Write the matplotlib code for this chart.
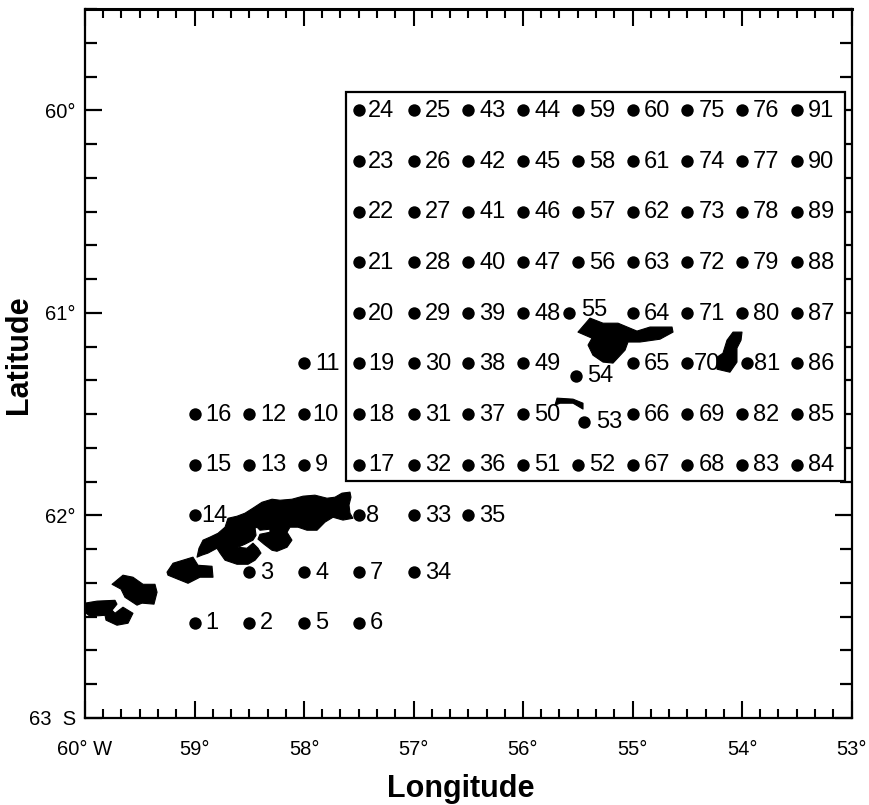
import matplotlib
matplotlib.use("Agg")
import matplotlib.pyplot as plt
from matplotlib.patches import Polygon, Rectangle
from matplotlib.ticker import MultipleLocator

plt.rcParams["font.family"] = ["Liberation Sans", "DejaVu Sans"]

# stations, numbered 1..91 (degrees W, degrees S)
station_lon = [
    59, 58.5, 58.5, 58, 58, 57.5, 57.5, 57.5,
    58, 58, 58, 58.5, 58.5, 59, 59, 59,
    57.5, 57.5, 57.5, 57.5, 57.5, 57.5, 57.5, 57.5,
    57, 57, 57, 57, 57, 57, 57, 57,
    57, 57, 56.5,
    56.5, 56.5, 56.5, 56.5, 56.5, 56.5, 56.5, 56.5,
    56, 56, 56, 56, 56, 56, 56, 56,
    55.5, 55.44, 55.52, 55.58, 55.5, 55.5, 55.5, 55.5,
    55, 55, 55, 55, 55, 55, 55, 55,
    54.5, 54.5, 54.5, 54.5, 54.5, 54.5, 54.5, 54.5,
    54, 54, 54, 54, 54, 53.95, 54, 54,
    53.5, 53.5, 53.5, 53.5, 53.5, 53.5, 53.5, 53.5,
]
station_lat = [
    62.53, 62.53, 62.28, 62.28, 62.53, 62.53, 62.28, 62.0,
    61.75, 61.5, 61.25, 61.5, 61.75, 62.0, 61.75, 61.5,
    61.75, 61.5, 61.25, 61.0, 60.75, 60.5, 60.25, 60.0,
    60.0, 60.25, 60.5, 60.75, 61.0, 61.25, 61.5, 61.75,
    62.0, 62.28, 62.0,
    61.75, 61.5, 61.25, 61.0, 60.75, 60.5, 60.25, 60.0,
    60.0, 60.25, 60.5, 60.75, 61.0, 61.25, 61.5, 61.75,
    61.75, 61.54, 61.31, 61.0, 60.75, 60.5, 60.25, 60.0,
    60.0, 60.25, 60.5, 60.75, 61.0, 61.25, 61.5, 61.75,
    61.75, 61.5, 61.25, 61.0, 60.75, 60.5, 60.25, 60.0,
    60.0, 60.25, 60.5, 60.75, 61.0, 61.25, 61.5, 61.75,
    61.75, 61.5, 61.25, 61.0, 60.75, 60.5, 60.25, 60.0,
]

# island outlines (lon, lat)
island_a = [(60.000, 62.433), (59.890, 62.423), (59.726, 62.419), (59.708, 62.438), (59.753, 62.468),
            (59.726, 62.483), (59.653, 62.453), (59.562, 62.483), (59.607, 62.532), (59.708, 62.542),
            (59.808, 62.517), (59.817, 62.493), (59.954, 62.498), (60.000, 62.478)]
island_b = [(59.753, 62.340), (59.653, 62.295), (59.562, 62.305), (59.470, 62.340), (59.361, 62.340),
            (59.342, 62.379), (59.370, 62.438), (59.479, 62.433), (59.525, 62.443), (59.635, 62.404),
            (59.671, 62.364)]
island_c = [(59.251, 62.280), (59.196, 62.236), (59.014, 62.206), (58.968, 62.246), (58.840, 62.251),
            (58.831, 62.305), (58.950, 62.305), (59.059, 62.335), (59.151, 62.315), (59.242, 62.295)]
island_main = [(58.977, 62.206), (58.959, 62.162), (58.922, 62.122), (58.858, 62.107), (58.785, 62.088),
               (58.721, 62.058), (58.694, 62.014), (58.612, 62.004), (58.539, 61.989), (58.466, 61.964),
               (58.384, 61.935), (58.292, 61.920), (58.219, 61.925), (58.110, 61.920), (58.009, 61.905),
               (57.900, 61.900), (57.790, 61.915), (57.717, 61.910), (57.653, 61.890), (57.580, 61.885),
               (57.571, 61.910), (57.589, 61.949), (57.580, 61.989), (57.553, 62.014), (57.644, 62.023),
               (57.735, 62.009), (57.808, 62.033), (57.881, 62.073), (57.973, 62.073), (58.055, 62.058),
               (58.128, 62.058), (58.155, 62.083), (58.110, 62.122), (58.155, 62.157), (58.247, 62.177),
               (58.292, 62.172), (58.365, 62.142), (58.420, 62.117), (58.402, 62.093), (58.311, 62.083),
               (58.311, 62.068), (58.402, 62.073), (58.429, 62.058), (58.447, 62.063), (58.438, 62.098),
               (58.466, 62.122), (58.539, 62.142), (58.603, 62.157), (58.521, 62.162), (58.466, 62.137),
               (58.420, 62.162), (58.393, 62.186), (58.447, 62.221), (58.511, 62.241), (58.612, 62.241),
               (58.721, 62.221), (58.767, 62.186), (58.795, 62.162), (58.877, 62.186), (58.932, 62.196)]
island_elephant = [(55.498, 61.095), (55.388, 61.026), (55.269, 61.051), (55.132, 61.051), (54.959, 61.090),
                   (54.840, 61.070), (54.639, 61.070), (54.630, 61.095), (54.749, 61.130), (54.932, 61.144),
                   (55.041, 61.144), (55.068, 61.184), (55.178, 61.248), (55.269, 61.243), (55.361, 61.209),
                   (55.406, 61.159), (55.370, 61.125)]
island_clarence = [(54.082, 61.095), (54.000, 61.095), (54.009, 61.135), (54.046, 61.174), (54.046, 61.243),
                   (54.110, 61.293), (54.228, 61.278), (54.228, 61.219), (54.174, 61.199), (54.137, 61.135)]
island_gibbs = [(55.708, 61.456), (55.689, 61.421), (55.543, 61.426), (55.452, 61.446), (55.452, 61.475),
                (55.543, 61.446), (55.662, 61.446)]
islands = [island_a, island_b, island_c, island_main, island_elephant, island_clarence, island_gibbs]

x_ticks = [60, 59, 58, 57, 56, 55, 54, 53]
x_labels = ["60° W", "59°", "58°", "57°", "56°", "55°", "54°", "53°"]
y_ticks = [60, 61, 62, 63]
y_labels = ["60°", "61°", "62°", "63  S"]

# label offsets in points
default_offset = (8, -0.5)
label_offset = {8: (5.5, -0.5), 10: (6, -0.5), 14: (5, -0.5), 55: (9, 2), 70: (5, -0.5), 81: (4.5, -0.5),
                53: (8.5, 0), 54: (8.5, 0)}
for n in range(17, 25):
    label_offset[n] = (6.5, -0.5)

fig = plt.figure(figsize=(8.7, 8.05), dpi=100)
ax = fig.add_axes([85 / 870, 1 - 718 / 805, 766.5 / 870, 709 / 805])

# white inset sits over the right-hand ticks, islands over the inset
ax.add_patch(Rectangle((57.616, 59.910), 53.059 - 57.616, 61.831 - 59.910, facecolor="white", edgecolor="black",
                       linewidth=1.6, zorder=2.6))
for outline in islands:
    ax.add_patch(Polygon(outline, closed=True, facecolor="black", edgecolor="black", linewidth=0.8,
                         joinstyle="round", zorder=2.8))

ax.scatter(station_lon, station_lat, s=80, color="black", linewidths=0, zorder=3)
for i, (lon, lat) in enumerate(zip(station_lon, station_lat)):
    num = i + 1
    ax.annotate(str(num), (lon, lat), xytext=label_offset.get(num, default_offset), textcoords="offset points",
                ha="left", va="center", fontsize=17, zorder=4)

ax.set_xlim(60, 53)
ax.set_ylim(63, 59.5)
ax.set_xticks(x_ticks)
ax.set_xticklabels(x_labels)
ax.set_yticks(y_ticks)
ax.set_yticklabels(y_labels)
ax.xaxis.set_minor_locator(MultipleLocator(1 / 6))
ax.yaxis.set_minor_locator(MultipleLocator(1 / 6))
ax.tick_params(axis="x", which="major", direction="in", length=12, width=1.5, top=True, labelsize=14.5, pad=16)
ax.tick_params(axis="y", which="major", direction="in", length=12, width=1.6, right=True, labelsize=14.5, pad=6.5)
ax.tick_params(axis="x", which="minor", direction="in", length=6.5, width=1.5, top=True)
ax.tick_params(axis="y", which="minor", direction="in", length=8.5, width=1.6, right=True)
for side in ax.spines.values():
    side.set_linewidth(1.6)
ax.spines["top"].set_linewidth(2.2)

ax.set_xlabel("Longitude", fontsize=22, fontweight="bold")
ax.set_ylabel("Latitude", fontsize=22, fontweight="bold")
ax.xaxis.set_label_coords(0.49, -0.0795)
ax.yaxis.set_label_coords(-0.067, 0.512)

fig.savefig("out.png", dpi=100)
